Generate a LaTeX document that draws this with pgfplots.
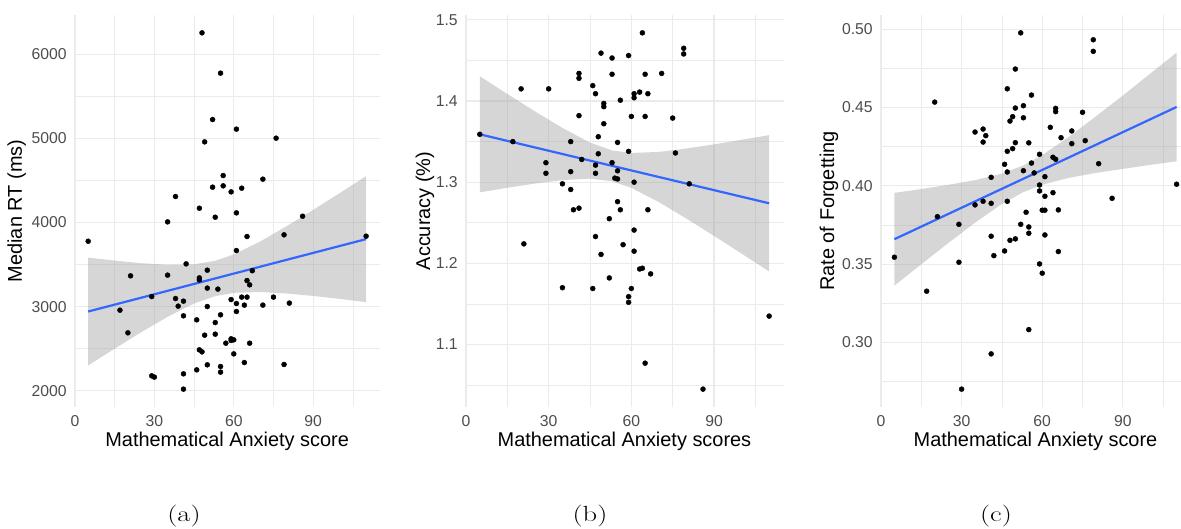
\documentclass[border=0pt]{standalone}
\usepackage{fontspec}
\usepackage{pgfplots}
\pgfplotsset{compat=1.18}
\newfontfamily\arial{Liberation Sans}
\definecolor{gridc}{HTML}{EBEBEB}
\definecolor{tickc}{HTML}{4D4D4D}
\definecolor{fitblue}{HTML}{3366FF}
\definecolor{bandc}{HTML}{999999}

\pgfplotsset{
 mystyle/.style={
  scale only axis, height=392bp, anchor=south west,
  xmin=-0.25, xmax=115.25,
  xtick={0,30,60,90}, minor xtick={15,45,75,105},
  grid=both,
  major grid style={draw=gridc, line width=1.1bp},
  minor grid style={draw=gridc, line width=0.55bp},
  axis line style={draw=none},
  tick style={draw=none},
  major tick length=0pt, minor tick length=0pt,
  /pgf/number format/assume math mode=true,
  tick label style={font=\arial\fontsize{15.8}{18}\selectfont, text=tickc},
  x tick label style={anchor=base, inner sep=0pt, yshift=-19.7bp},
  y tick label style={anchor=east, inner sep=0pt, xshift=-7.4bp},
  label style={font=\arial\fontsize{20}{24}\selectfont, text=black},
  xlabel style={at={(axis description cs:0.5,0)}, anchor=base, inner sep=0pt, yshift=-39.7bp},
 },
 dots/.style={only marks, mark=*, mark size=2.5bp, black},
 band/.style={fill=bandc, fill opacity=0.4, draw=none, forget plot},
 fit/.style={fitblue, line width=2.2bp, no marks},
}

\begin{document}
\begin{tikzpicture}
\path[use as bounding box] (0,0) rectangle (1181bp,529bp);

% ---------- (a) ----------
\begin{axis}[mystyle, at={(74.3bp,122bp)}, width=305.7bp,
  ymin=1808, ymax=6464,
  ytick={2000,3000,4000,5000,6000}, yticklabels={2000,3000,4000,5000,6000},
  minor ytick={2500,3500,4500,5500},
  xlabel={Mathematical Anxiety score}, ylabel={Median RT (ms)},
  ylabel style={at={(axis description cs:-0.1884,0.5)}, anchor=center, inner sep=0pt}]
\addplot[dots] coordinates {
(48,6252)(55,5773)(52,5222)(61,5108)(49,4957)(76,5001)(56,4557)(56,4435)(52,4419)(59,4363)(63,4407)(71,4514)(38,4308)(47,4169)(61,4114)(53,4062)(35,4007)(86,4074)(5,3777)(65,3833)(79,3853)(110,3837)(61,3666)
(42,3508)(50,3433)(67,3427)(21,3366)(35,3374)(47,3342)(47,3318)(65,3310)(66,3259)(50,3220)(54,3208)(29,3120)(38,3096)(41,3065)(39,3006)(59,3084)(63,3113)(65,3113)(61,3037)(64,3018)(71,3018)(75,3113)(81,3042)(50,3001)(61,2942)(17,2958)(41,2891)(55,2903)(46,2843)(53,2811)(20,2689)(49,2661)(53,2673)(59,2618)(60,2606)(59,2598)(57,2566)(66,2566)(47,2487)(48,2463)(60,2439)(64,2336)(79,2313)(50,2309)(55,2289)(46,2249)(55,2222)(41,2202)(29,2178)(30,2163)(41,2020)};
\addplot[band] coordinates {
(5,3582)(15,3547)(25,3516)(35,3497)(45,3503)(53,3545)(60,3620)(70,3774)(80,3956)(90,4149)(100,4348)(110,4550)
(110,3054)(100,3092)(90,3127)(80,3156)(70,3174)(60,3164)(53,3125)(45,3037)(35,2879)(25,2696)(15,2501)(5,2302)} -- cycle;
\addplot[fit] coordinates {(5,2942)(110,3802)};
\end{axis}

% ---------- (b) ----------
\begin{axis}[mystyle, at={(465.3bp,122bp)}, width=318.3bp,
  ymin=1.023, ymax=1.506,
  ytick={1.1,1.2,1.3,1.4,1.5}, yticklabels={1.1,1.2,1.3,1.4,1.5},
  minor ytick={1.05,1.15,1.25,1.35,1.45},
  xlabel={Mathematical Anxiety scores}, ylabel={Accuracy (\%)},
  ylabel style={at={(axis description cs:-0.1266,0.5)}, anchor=center, inner sep=0pt}]
\addplot[dots] coordinates {
(64,1.484)(79,1.465)(79,1.458)(49,1.459)(53,1.453)(59,1.456)(41,1.434)(41,1.428)(53,1.433)(65,1.433)(71,1.434)(20,1.415)(30,1.415)(46,1.419)(47,1.409)(61,1.409)(61,1.404)(63,1.411)(66,1.409)(50,1.397)(50,1.393)(56,1.401)(41,1.382)(60,1.381)(65,1.381)(75,1.379)(50,1.372)(5,1.359)(48,1.356)(17,1.350)(38,1.350)(55,1.349)(59,1.338)(76,1.336)(48,1.335)(42,1.328)(29,1.324)(53,1.324)(47,1.321)(29,1.311)(38,1.313)(47,1.311)(55,1.314)(54,1.305)(55,1.304)(61,1.300)(81,1.298)(35,1.298)(38,1.291)(55,1.276)(39,1.266)(41,1.268)(56,1.266)(66,1.266)(52,1.255)(61,1.241)(47,1.233)(21,1.224)(57,1.223)(49,1.211)(61,1.215)(52,1.182)(35,1.170)(46,1.169)(60,1.169)(63,1.193)(64,1.194)(67,1.187)(59,1.159)(59,1.152)(110,1.135)(65,1.077)(86,1.045)};
\addplot[band] coordinates {
(5,1.4305)(15,1.4087)(25,1.3873)(35,1.3668)(45,1.3488)(53,1.3391)(60,1.3360)(70,1.3373)(80,1.3415)(90,1.3466)(100,1.3522)(110,1.3580)
(110,1.1900)(100,1.2120)(90,1.2338)(80,1.2551)(70,1.2755)(60,1.2930)(53,1.3011)(45,1.3044)(35,1.3026)(25,1.2983)(15,1.2931)(5,1.2875)} -- cycle;
\addplot[fit] coordinates {(5,1.359)(110,1.274)};
\end{axis}

% ---------- (c) ----------
\begin{axis}[mystyle, at={(880.3bp,122bp)}, width=310.4bp,
  ymin=0.2588, ymax=0.509,
  ytick={0.30,0.35,0.40,0.45,0.50}, yticklabels={0.30,0.35,0.40,0.45,0.50},
  minor ytick={0.275,0.325,0.375,0.425,0.475},
  xlabel={Mathematical Anxiety score}, ylabel={Rate of Forgetting},
  ylabel style={at={(axis description cs:-0.1653,0.5)}, anchor=center, inner sep=0pt}]
\addplot[dots] coordinates {
(52,0.4976)(79,0.4932)(79,0.4858)(50,0.4745)(47,0.4619)(56,0.4579)(20,0.4534)(50,0.4496)(53,0.4511)(65,0.4494)(65,0.4473)(75,0.4469)(49,0.4441)(53,0.4434)(48,0.4413)(63,0.4373)(35,0.4343)(38,0.4362)(39,0.4320)(38,0.4279)(67,0.4307)(71,0.4350)(71,0.4269)(76,0.4288)(50,0.4275)(55,0.4274)(49,0.4237)(47,0.4220)(59,0.4201)(64,0.4182)(65,0.4169)(46,0.4137)(56,0.4145)(81,0.4141)(47,0.4088)(53,0.4096)(57,0.4082)(41,0.4054)(61,0.4058)(59,0.4005)(110,0.4010)(59,0.3967)(64,0.3956)(61,0.3933)(86,0.3920)(38,0.3901)(47,0.3901)(35,0.3878)(41,0.3888)(21,0.3803)(60,0.3844)(61,0.3844)(66,0.3846)(54,0.3831)(29,0.3754)(52,0.3754)(55,0.3737)(55,0.3697)(41,0.3678)(61,0.3686)(48,0.3652)(50,0.3661)(5,0.3544)(42,0.3554)(46,0.3584)(66,0.3580)(29,0.3512)(59,0.3501)(60,0.3442)(17,0.3327)(55,0.3082)(41,0.2927)(30,0.2702)};
\addplot[band] coordinates {
(5,0.3955)(15,0.3979)(25,0.4006)(35,0.4036)(45,0.4078)(53,0.4130)(60,0.4196)(70,0.4313)(80,0.4443)(90,0.4576)(100,0.4713)(110,0.4850)
(110,0.4156)(100,0.4133)(90,0.4108)(80,0.4082)(70,0.4051)(60,0.4007)(53,0.3960)(45,0.3884)(35,0.3764)(25,0.3634)(15,0.3499)(5,0.3363)} -- cycle;
\addplot[fit] coordinates {(5,0.3659)(110,0.4503)};
\end{axis}

\node[anchor=base, inner sep=0pt, xscale=1.3, font=\fontsize{22}{26}\selectfont] at (184bp,7.5bp) {(a)};
\node[anchor=base, inner sep=0pt, xscale=1.3, font=\fontsize{22}{26}\selectfont] at (590bp,7.5bp) {(b)};
\node[anchor=base, inner sep=0pt, xscale=1.3, font=\fontsize{22}{26}\selectfont] at (996bp,7.5bp) {(c)};
\end{tikzpicture}
\end{document}
